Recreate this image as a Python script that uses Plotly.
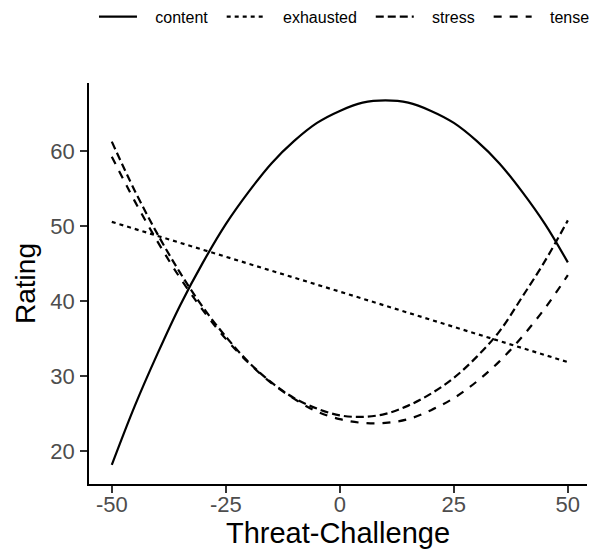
import plotly.graph_objects as go

# ---- data ----
x_curve = [-50, -45, -40, -35, -30, -25, -20, -15, -10, -5, 0,
           5, 10, 15, 20, 25, 30, 35, 40, 45, 50]
content = [18.2, 26.0, 33.0, 39.5, 45.2, 50.3, 54.6, 58.4, 61.4, 63.8, 65.4,
           66.5, 66.8, 66.5, 65.4, 63.8, 61.4, 58.4, 54.6, 50.3, 45.2]
stress = [61.3, 54.8, 49.0, 43.8, 39.2, 35.3, 31.9, 29.2, 27.1, 25.7, 24.8,
          24.6, 25.0, 26.1, 27.7, 29.8, 32.6, 36.0, 40.6, 45.4, 50.8]
tense = [59.3, 53.4, 48.0, 43.1, 38.8, 35.0, 31.8, 29.1, 27.0, 25.3, 24.3,
         23.8, 23.8, 24.3, 25.5, 27.1, 29.3, 32.0, 35.3, 39.1, 43.5]
x_exhausted = [-50, -25, 0, 25, 50]
exhausted = [50.6, 46.0, 41.3, 36.6, 31.9]

series_names = ["content", "exhausted", "stress", "tense"]
x_ticks = [-50, -25, 0, 25, 50]
x_ticktext = ["-50", "-25", "0", "25", "50"]
y_ticks = [20, 30, 40, 50, 60]

FONT = "Liberation Sans, Arial, sans-serif"
LW = 2.2
LEAD = "\u00a0\u00a0\u00a0"  # legend spacing before labels
TRAIL = "\u00a0\u00a0"       # legend spacing after labels


def label(name, last=False):
    return LEAD + name + ("" if last else TRAIL)


fig = go.Figure()
fig.add_trace(go.Scatter(x=x_curve, y=content, name=label(series_names[0]), mode="lines",
                         line=dict(color="black", width=LW, shape="spline")))
fig.add_trace(go.Scatter(x=x_exhausted, y=exhausted, name=label(series_names[1]), mode="lines",
                         line=dict(color="black", width=LW, dash="4px,4px")))
fig.add_trace(go.Scatter(x=x_curve, y=stress, name=label(series_names[2]), mode="lines",
                         line=dict(color="black", width=LW, dash="8px,4px", shape="spline")))
fig.add_trace(go.Scatter(x=x_curve, y=tense, name=label(series_names[3], last=True), mode="lines",
                         line=dict(color="black", width=LW, dash="8px,8px", shape="spline")))

axis_common = dict(
    showgrid=False, zeroline=False, showline=True, linecolor="black", linewidth=1.8,
    ticks="outside", ticklen=7, tickwidth=1.5, tickcolor="#333333",
    tickfont=dict(family=FONT, size=22, color="#4D4D4D"), automargin=False,
)

# page has an 8px body margin, so the figure is sized to fit the 598x556 window
fig.update_layout(
    width=590, height=548,
    margin=dict(l=81, r=11, t=75, b=72),
    paper_bgcolor="white", plot_bgcolor="white",
    font=dict(family=FONT, color="black"),
    xaxis=dict(range=[-55, 54.2], tickvals=x_ticks, ticktext=x_ticktext, ticklabelstandoff=-7,
               title=dict(text="Threat-Challenge", font=dict(family=FONT, size=29, color="black"), standoff=0),
               **axis_common),
    yaxis=dict(range=[15.65, 69.12], tickvals=y_ticks, ticklabelstandoff=1,
               title=dict(text="Rating", font=dict(family=FONT, size=28, color="black"), standoff=6),
               **axis_common),
    legend=dict(orientation="h", x=0.010, xanchor="left", yref="container", y=0.984,
                yanchor="middle", font=dict(family=FONT, size=16, color="black"),
                itemwidth=38, bgcolor="rgba(0,0,0,0)"),
)

fig.write_html("out.html")
